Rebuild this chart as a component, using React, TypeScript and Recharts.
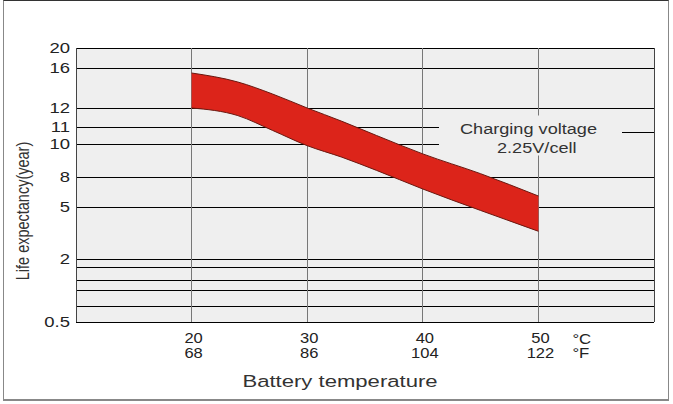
import {
  Area,
  ComposedChart,
  ReferenceArea,
  ReferenceLine,
  XAxis,
  YAxis,
} from "recharts";

const tempTicks = [20, 30, 40, 50];
const fahrenheitTicks = ["68", "86", "104", "122"];

const bandTemps = [20, 24, 27, 30, 33, 36, 40, 45, 50];
const bandHigh = [15.5, 14.6, 13.4, 12.0, 11.3, 10.5, 9.4, 8.2, 6.1];
const bandLow = [12.0, 11.6, 10.8, 9.9, 9.2, 8.4, 6.8, 4.8, 3.6];

// the printed y axis is not linear: each labelled value sits at its own slot
const yTickValues = [0.5, 2, 5, 8, 10, 11, 12, 16, 20];
const yTickSlots = [0, 63, 115, 145, 178, 195, 214, 254, 274];
const minorGridValues = [1.8, 1.5, 1.25, 0.88];

const FONT = "'Liberation Sans', Arial, sans-serif";
const INK = "#222";

const toSlot = (v: number) => {
  for (let i = 0; i < yTickValues.length - 1; i++) {
    const a = yTickValues[i];
    const b = yTickValues[i + 1];
    if (v >= a && v <= b) {
      return yTickSlots[i] + ((v - a) / (b - a)) * (yTickSlots[i + 1] - yTickSlots[i]);
    }
  }
  return v < yTickValues[0] ? 0 : yTickSlots[yTickSlots.length - 1];
};

const data = bandTemps.map((t, i) => ({
  temp: t,
  band: [toSlot(bandLow[i]), toSlot(bandHigh[i])],
}));

const YTick = (props: any) => {
  const { x, y, payload } = props;
  const idx = yTickSlots.indexOf(payload.value);
  return (
    <text
      transform={`translate(${x},${y + 5}) scale(1.32,1)`}
      textAnchor="end"
      fontFamily={FONT}
      fontSize={14}
      fill={INK}
    >
      {idx >= 0 ? String(yTickValues[idx]) : ""}
    </text>
  );
};

const XTick = (props: any) => {
  const { x, y, payload } = props;
  const idx = tempTicks.indexOf(payload.value);
  const last = idx === tempTicks.length - 1;
  return (
    <g fontFamily={FONT} fontSize={14} fill={INK}>
      <text transform={`translate(${x + 2},${y + 21}) scale(1.18,1)`} textAnchor="middle">
        {payload.value}
      </text>
      <text transform={`translate(${x + 2},${y + 36}) scale(1.18,1)`} textAnchor="middle">
        {fahrenheitTicks[idx]}
      </text>
      {last && (
        <>
          <text transform={`translate(${x + 34},${y + 22}) scale(1.2,1)`}>°C</text>
          <text transform={`translate(${x + 34},${y + 36}) scale(1.2,1)`}>°F</text>
        </>
      )}
    </g>
  );
};

export default function App() {
  const gridSlots = [...yTickValues.filter((v) => v !== 11 && v !== 10), ...minorGridValues].map(toSlot);
  return (
    <div style={{ position: "absolute", left: 0, top: 0, width: 673, height: 404, background: "#fff" }}>
      <div
        style={{
          position: "absolute",
          left: 3,
          top: 0,
          width: 666,
          height: 401,
          borderLeft: "1px solid #888",
          borderRight: "1px solid #888",
          borderBottom: "2px solid #888",
          borderTop: "1px solid #333",
          boxSizing: "border-box",
        }}
      />
      <ComposedChart
        width={673}
        height={404}
        data={data}
        margin={{ top: 48, right: 19, bottom: 22, left: 0 }}
        style={{ position: "absolute", left: 0, top: 0 }}
      >
        <XAxis
          dataKey="temp"
          type="number"
          domain={[10, 60]}
          ticks={tempTicks}
          interval={0}
          axisLine={false}
          tickLine={false}
          tickSize={0}
          tickMargin={0}
          height={60}
          tick={<XTick />}
          label={{
            content: (p: any) => (
              <text
                transform={`translate(${p.viewBox.x + 264},${p.viewBox.y + 65}) scale(1.3,1)`}
                textAnchor="middle"
                fontFamily={FONT}
                fontSize={17}
                fill="#333"
              >
                Battery temperature
              </text>
            ),
          }}
        />
        <YAxis
          type="number"
          domain={[0, 274]}
          ticks={yTickSlots}
          interval={0}
          axisLine={false}
          tickLine={false}
          tickSize={0}
          tickMargin={6}
          width={76}
          tick={<YTick />}
          label={{
            content: () => (
              <text
                transform="translate(29,211) scale(1.3,1) rotate(-90)"
                textAnchor="middle"
                fontFamily={FONT}
                fontSize={14.5}
                fill="#333"
              >
                Life expectancy(year)
              </text>
            ),
          }}
        />
        <ReferenceArea x1={10} x2={60} y1={0} y2={274} fill="#efefef" fillOpacity={1} stroke="none" zIndex={-150} />
        {gridSlots.map((s, i) => (
          <ReferenceLine key={"h" + i} y={s} stroke="#000" strokeWidth={1} shapeRendering="crispEdges" zIndex={-100} />
        ))}
        {[10, 11].map((v) => (
          <ReferenceLine
            key={"s" + v}
            segment={[
              { x: 10, y: toSlot(v) },
              { x: 41.4, y: toSlot(v) },
            ]}
            stroke="#000"
            strokeWidth={1}
            shapeRendering="crispEdges"
            zIndex={-100}
          />
        ))}
        {tempTicks.map((t) => (
          <ReferenceLine key={"v" + t} x={t} stroke="#777" strokeWidth={1} shapeRendering="crispEdges" zIndex={-100} />
        ))}
        <Area
          dataKey="band"
          type="monotone"
          stroke="#6a1810"
          strokeWidth={1}
          fill="#dc241a"
          fillOpacity={1}
          isAnimationActive={false}
          dot={false}
          activeDot={false}
        />
        <ReferenceArea
          x1={41.4}
          x2={60}
          y1={toSlot(9.3)}
          y2={toSlot(11.6)}
          fill="#efefef"
          fillOpacity={1}
          stroke="none"
          zIndex={150}
          label={{
            content: (p: any) => (
              <g fontFamily={FONT} fontSize={15} fill="#333">
                <text transform={`translate(${p.viewBox.x + 21},${p.viewBox.y + 18}) scale(1.21,1)`}>
                  Charging voltage
                </text>
                <text transform={`translate(${p.viewBox.x + 58},${p.viewBox.y + 37}) scale(1.21,1)`}>
                  2.25V/cell
                </text>
              </g>
            ),
          }}
        />
        <ReferenceLine
          segment={[
            { x: 57.2, y: toSlot(10.7) },
            { x: 60, y: toSlot(10.7) },
          ]}
          stroke="#000"
          strokeWidth={1}
          shapeRendering="crispEdges"
          zIndex={160}
        />
        <ReferenceLine x={10} stroke="#444" strokeWidth={1} shapeRendering="crispEdges" zIndex={160} />
        <ReferenceLine x={60} stroke="#444" strokeWidth={1} shapeRendering="crispEdges" zIndex={160} />
      </ComposedChart>
    </div>
  );
}
